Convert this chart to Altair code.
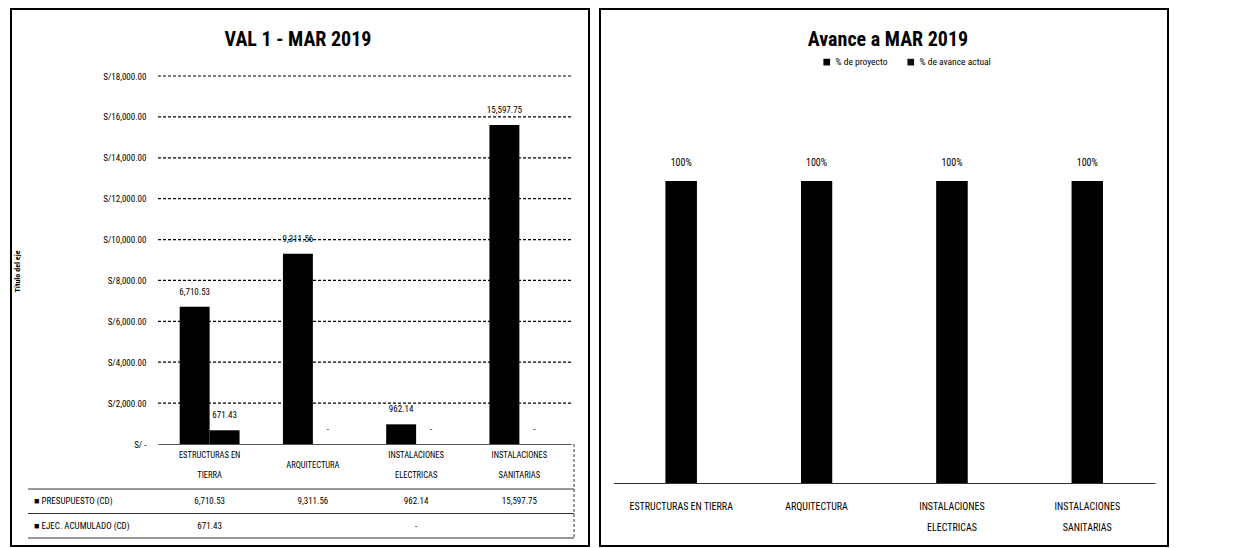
import altair as alt
import pandas as pd

FONT = "Liberation Sans Narrow, Arial Narrow, Roboto Condensed, Roboto, sans-serif"

# ---------------- data ----------------
categorias = ["ESTRUCTURAS EN|TIERRA", "ARQUITECTURA", "INSTALACIONES|ELECTRICAS", "INSTALACIONES|SANITARIAS"]
categorias_der = ["ESTRUCTURAS EN TIERRA", "ARQUITECTURA", "INSTALACIONES|ELECTRICAS", "INSTALACIONES|SANITARIAS"]
series_izq = ["PRESUPUESTO (CD)", "EJEC. ACUMULADO (CD)"]
presupuesto = [6710.53, 9311.56, 962.14, 15597.75]
ejecutado = [671.43, None, 0.0, None]
ticks_y = [0, 2000, 4000, 6000, 8000, 10000, 12000, 14000, 16000, 18000]

series_der = ["% de proyecto", "% de avance actual"]
pct_proyecto = [1.0, 1.0, 1.0, 1.0]
pct_avance = [1.0, 1.0, 1.0, 1.0]

titulo_izq = "VAL 1 - MAR 2019"
titulo_der = "Avance a MAR 2019"
titulo_eje = "Título del eje"


def fmt_chart(v):
    if v is None or v == 0:
        return "-"
    return f"{v:,.2f}"


def fmt_tabla(v):
    if v is None:
        return ""
    if v == 0:
        return "-"
    return f"{v:,.2f}"


rows = []
for serie, vals in zip(series_izq, [presupuesto, ejecutado]):
    for c, v in zip(categorias, vals):
        rows.append({"cat": c, "serie": serie, "valor": v,
                     "pos": 0.0 if v is None else v,
                     "etiqueta": fmt_chart(v), "tabla": fmt_tabla(v)})
df_izq = pd.DataFrame(rows)
df_ticks = pd.DataFrame({"v": [t for t in ticks_y if t > 0]})
df_filas = pd.DataFrame({"fila": series_izq, "rotulo": ["\u25A0 " + s for s in series_izq]})
df_t1 = pd.DataFrame({"t": [titulo_izq]})

rows = []
for serie, vals in zip(series_der, [pct_proyecto, pct_avance]):
    for c, v in zip(categorias_der, vals):
        rows.append({"cat": c, "serie": serie, "valor": v, "etiqueta": f"{v:.0%}"})
df_der = pd.DataFrame(rows)
df_t2 = pd.DataFrame({"t": [titulo_der]})

# ---------------- left panel ----------------
W1, H1 = 578, 537
XL = alt.Scale(domain=categorias, range=[147, 560], paddingInner=0.42, paddingOuter=0.21)
YL = alt.Scale(domain=[0, 18000], range=[435, 67], nice=False, zero=False)
YT = alt.Scale(domain=series_izq, range=[480, 529], paddingInner=0, paddingOuter=0)

x_axis_l = alt.Axis(title=None, orient="bottom", offset=-(H1 - 435), ticks=False, tickSize=0,
                    domainColor="#555555", domainWidth=1, labelAngle=0,
                    labelExpr="split(datum.label, '|')", labelBaseline="middle",
                    labelPadding={"condition": {"test": "indexof(datum.value, '|') < 0", "value": 20},
                                  "value": 10},
                    labelLineHeight=20, labelFontSize=8.5,
                    labelFont=FONT, labelColor="black")
X_L = alt.X("cat:N", sort=categorias, scale=XL, axis=x_axis_l)

y_axis_l = alt.Axis(values=ticks_y, orient="left", offset=-147, domain=False, ticks=False,
                    tickSize=0, grid=False, labelPadding=12, labelFontSize=9, labelFont=FONT,
                    labelColor="black",
                    labelExpr="datum.value == 0 ? 'S/ -' : 'S/' + format(datum.value, ',.2f')",
                    title=titulo_eje, titleX=-137, titleY=262, titleFontSize=8,
                    titleFont=FONT, titleFontWeight="bold", titleColor="black")

grid = alt.Chart(df_ticks).mark_rule(color="black", strokeDash=[3, 2], strokeWidth=1.2).encode(
    y=alt.Y("v:Q", scale=YL, axis=None),
    x=alt.value(147), x2=alt.value(560))

bars_l = alt.Chart(df_izq).mark_bar(color="black").encode(
    x=X_L,
    xOffset=alt.XOffset("serie:N", sort=series_izq, scale=alt.Scale(paddingInner=0, paddingOuter=0)),
    y=alt.Y("valor:Q", scale=YL, axis=y_axis_l))

lbl_l = alt.Chart(df_izq).mark_text(baseline="middle", dy=-15, fontSize=9, font=FONT, color="black").encode(
    x=X_L,
    xOffset=alt.XOffset("serie:N", sort=series_izq, scale=alt.Scale(paddingInner=0, paddingOuter=0)),
    y=alt.Y("pos:Q", scale=YL, axis=None),
    text="etiqueta:N")

tabla_txt = alt.Chart(df_izq).mark_text(baseline="middle", fontSize=9, font=FONT, color="black").encode(
    x=X_L,
    y=alt.Y("serie:N", scale=YT, axis=None),
    text="tabla:N")

tabla_rot = alt.Chart(df_filas).mark_text(align="left", baseline="middle", fontSize=9, font=FONT,
                                          color="black").encode(
    x=alt.value(23),
    y=alt.Y("fila:N", scale=YT, axis=None),
    text="rotulo:N")

tabla_lin = alt.Chart(df_filas).mark_rule(color="#333333", strokeWidth=1).encode(
    y=alt.Y("fila:N", scale=YT, axis=None, bandPosition=0),
    x=alt.value(17), x2=alt.value(563))

tabla_lin2 = alt.Chart(df_filas.tail(1)).mark_rule(color="#333333", strokeWidth=1).encode(
    y=alt.Y("fila:N", scale=YT, axis=None, bandPosition=1),
    x=alt.value(17), x2=alt.value(563))

tabla_vert = alt.Chart(df_t1).mark_rule(color="#333333", strokeDash=[3, 2], strokeWidth=1).encode(
    x=alt.value(563), y=alt.value(435), y2=alt.value(529))

tit_l = alt.Chart(df_t1).mark_text(fontSize=20, fontWeight="bold", font=FONT, color="black",
                                   baseline="middle").encode(
    x=alt.value(287), y=alt.value(31), text="t:N")

izq = alt.layer(grid, bars_l, lbl_l, tabla_lin, tabla_lin2, tabla_vert, tabla_txt, tabla_rot, tit_l
                ).resolve_scale(y="independent").properties(width=W1, height=H1)

# ---------------- right panel ----------------
W2, H2 = 568, 537
XR = alt.Scale(domain=categorias_der, range=[13.5, 555], paddingInner=0.77, paddingOuter=0.385)
YR = alt.Scale(domain=[0, 1], range=[474, 172], nice=False)

x_axis_r = alt.Axis(title=None, orient="bottom", offset=-(H2 - 474), ticks=False, tickSize=0,
                    domainColor="#333333", domainWidth=1, labelAngle=0,
                    labelExpr="split(datum.label, '|')", labelBaseline="top",
                    labelPadding=18, labelLineHeight=21, labelFontSize=10,
                    labelFont=FONT, labelColor="black")
X_R = alt.X("cat:N", sort=categorias_der, scale=XR, axis=x_axis_r)

bars_r = alt.Chart(df_der).mark_bar().encode(
    x=X_R,
    y=alt.Y("valor:Q", scale=YR, axis=None, stack=None),
    color=alt.Color("serie:N", sort=series_der,
                    scale=alt.Scale(domain=series_der, range=["#000000", "#111111"]),
                    legend=alt.Legend(title=None, orient="none", legendX=222, legendY=48,
                                      direction="horizontal", symbolType="square",
                                      symbolSize=45, labelFontSize=9.5, labelFont=FONT,
                                      labelColor="black", columnPadding=18)),
    order=alt.Order("serie:N", sort="ascending"))

lbl_r = alt.Chart(df_der[df_der["serie"] == series_der[0]]).mark_text(
    baseline="middle", dy=-18, fontSize=10, font=FONT, color="black").encode(
    x=X_R,
    y=alt.Y("valor:Q", scale=YR, axis=None),
    text="etiqueta:N")

tit_r = alt.Chart(df_t2).mark_text(fontSize=20, fontWeight="bold", font=FONT, color="black",
                                   baseline="middle").encode(
    x=alt.value(288), y=alt.value(31), text="t:N")

der = alt.layer(bars_r, lbl_r, tit_r).properties(width=W2, height=H2)

chart = alt.hconcat(izq, der, spacing=9).resolve_scale(color="independent").configure(
    padding={"left": 2, "top": 0, "right": 0, "bottom": 0}, background="white", font=FONT
).configure_view(stroke="black", strokeWidth=2)

chart.save("out.html", embed_options={"renderer": "svg", "actions": False})
